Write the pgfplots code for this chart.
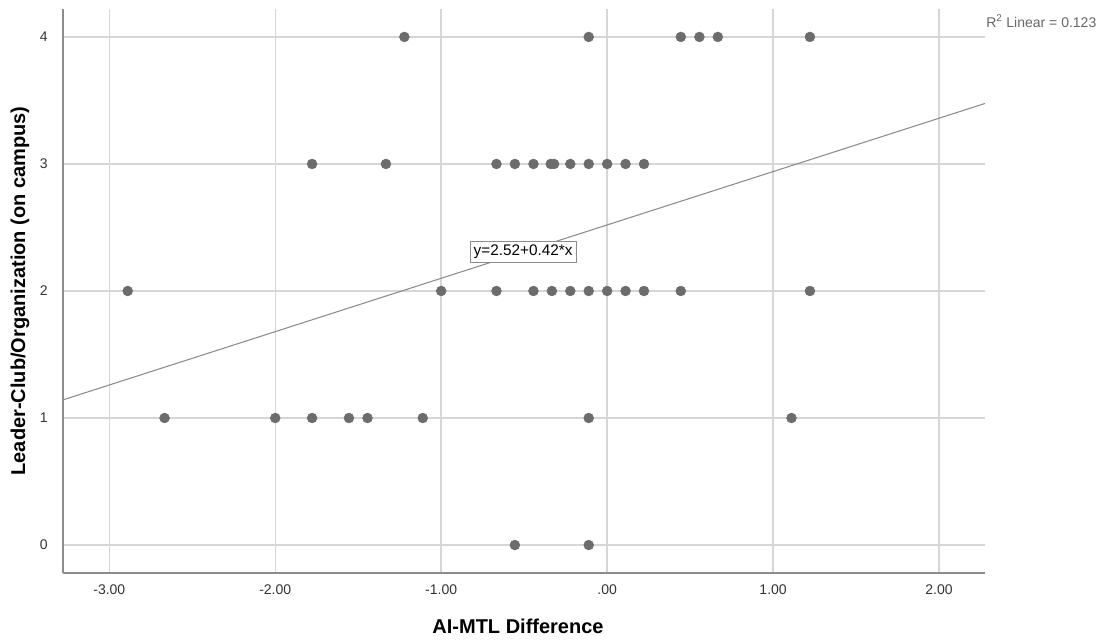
\documentclass[border=0pt]{standalone}
\usepackage{pgfplots}
\pgfplotsset{compat=1.18}
\usepackage{fontspec}
\setmainfont{Liberation Sans}
\definecolor{dotc}{RGB}{108,108,108}
\definecolor{gridc}{RGB}{214,214,214}
\definecolor{axc}{RGB}{140,140,140}
\definecolor{regc}{RGB}{140,140,140}
\begin{document}
\begin{tikzpicture}
\useasboundingbox (0,0) rectangle (829.5pt,480.75pt);
\begin{axis}[
  at={(47.25pt,51pt)}, anchor=south west,
  scale only axis, width=691.5pt, height=423pt,
  xmin=-3.279, xmax=2.277, ymin=-0.22, ymax=4.22,
  axis x line*=bottom, axis y line*=left,
  axis line style={draw=axc, line width=1.1pt},
  xtick={-3,-2,-1,0,1,2},
  xticklabels={-3.00,-2.00,-1.00,.00,1.00,2.00},
  ytick={0,1,2,3,4},
  yticklabels={0,1,2,3,4},
  major tick length=0pt,
  grid=major,
  major grid style={draw=gridc, line width=1.1pt},
  tick label style={font=\fontsize{10.5pt}{12pt}\selectfont, text=black!80},
  xticklabel style={yshift=-5pt},
  yticklabel style={xshift=-8pt},
  xlabel={AI-MTL Difference},
  ylabel={Leader-Club/Organization (on campus)},
  label style={font=\fontsize{15pt}{18pt}\selectfont\bfseries},
  xlabel style={at={(axis description cs:0.4935,0)}, anchor=center, yshift=-39.75pt},
  ylabel style={at={(axis description cs:0,0.5)}, anchor=center, yshift=32.25pt},
  clip=false,
]
\addplot[regc, line width=0.8pt, no marks] coordinates {(-3.279,1.1428) (2.277,3.4763)};
\addplot[only marks, mark=*, mark size=3.7pt, mark options={fill=dotc, draw=dotc}] coordinates {
(-1.222,4) (-0.111,4) (0.444,4) (0.556,4) (0.667,4) (1.222,4)
(-1.778,3) (-1.333,3) (-0.667,3) (-0.556,3) (-0.444,3) (-0.34,3) (-0.32,3) (-0.222,3) (-0.111,3) (0,3) (0.111,3) (0.222,3)
(-2.889,2) (-1.0,2) (-0.667,2) (-0.444,2) (-0.333,2) (-0.222,2) (-0.111,2) (0,2) (0.111,2) (0.222,2) (0.444,2) (1.222,2)
(-2.667,1) (-2.0,1) (-1.778,1) (-1.556,1) (-1.444,1) (-1.111,1) (-0.111,1) (1.111,1)
(-0.556,0) (-0.111,0)
};
\node[draw=black!45, fill=white, line width=0.6pt, inner sep=2.5pt, font=\fontsize{11.5pt}{13pt}\selectfont] at (axis cs:-0.506,2.307) {y=2.52+0.42*x};
\node[anchor=west, inner sep=0pt, text=black!60, font=\fontsize{10.5pt}{12pt}\selectfont] at (rel axis cs:1.0011,0.9787) {R\textsuperscript{2} Linear = 0.123};
\end{axis}
\end{tikzpicture}
\end{document}
